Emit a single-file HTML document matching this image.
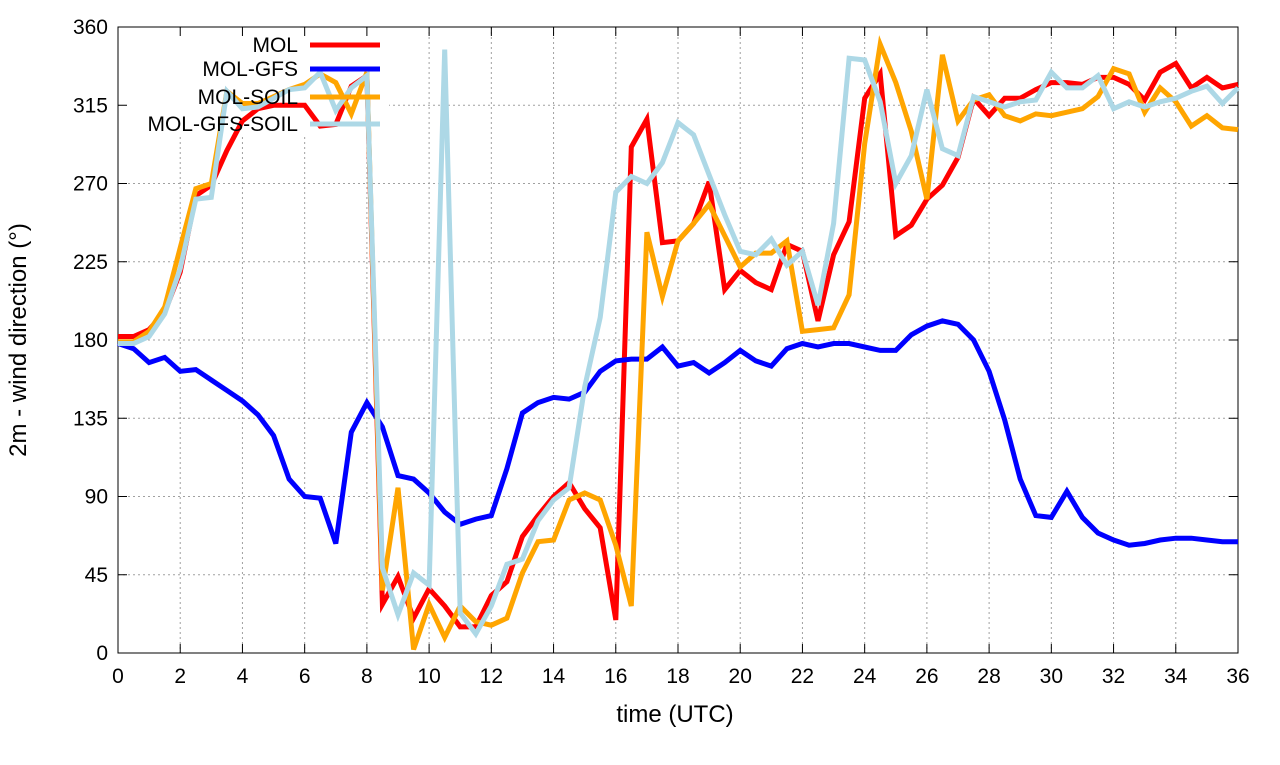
<!DOCTYPE html>
<html><head><meta charset="utf-8"><style>
body{margin:0;background:#fff}
svg text{font-family:"Liberation Sans",sans-serif;fill:#000}
</style></head><body>
<svg id="chart" width="1280" height="760" xmlns="http://www.w3.org/2000/svg">
<g id="grid"></g>
<rect x="119" y="28" width="270" height="108" fill="#fff"/>
<g id="axes"></g>
<g id="series"></g>
<g id="legend"></g>
<text x="675" y="722" font-size="24" text-anchor="middle">time (UTC)</text>
<text transform="translate(26,340) rotate(-90)" font-size="24" text-anchor="middle">2m - wind direction (°)</text>
</svg>
<script>
const xTicks=[0,2,4,6,8,10,12,14,16,18,20,22,24,26,28,30,32,34,36];
const yTicks=[0,45,90,135,180,225,270,315,360];
const seriesNames=["MOL","MOL-GFS","MOL-SOIL","MOL-GFS-SOIL"];
const seriesColors=["#ff0000","#0000ff","#ffa500","#add8e6"];
const timeStep=0.5;
const mol=[182,182,186,196,219,263,269,289,306,313,315,315,315,303,304,326,332,28,44,20,37,27,15,15,33,41,67,79,90,98,83,72,19,291,307,236,237,247,271,209,220,213,209,235,231,191,229,248,319,333,240,246,261,269,285,319,309,319,319,324,328,328,327,331,331,327,318,334,339,325,331,325,327];
const molGfs=[178,175,167,170,162,163,157,151,145,137,125,100,90,89,63,127,144,130,102,100,92,81,74,77,79,106,138,144,147,146,150,162,168,169,169,176,165,167,161,167,174,168,165,175,178,176,178,178,176,174,174,183,188,191,189,180,162,134,100,79,78,93,78,69,65,62,63,65,66,66,65,64,64];
const molSoil=[179,179,185,199,233,267,270,323,316,316,320,324,327,333,328,310,334,36,95,2,28,9,27,18,16,20,46,64,65,88,92,88,62,27,242,205,237,247,258,240,222,230,230,237,185,186,187,206,293,350,328,300,261,344,306,318,321,309,306,310,309,311,313,320,336,333,311,325,317,303,309,302,301];
const molGfsSoil=[178,178,182,195,221,261,262,323,313,314,319,324,325,334,312,325,332,49,22,46,39,347,23,11,27,51,54,76,88,95,153,193,265,274,270,282,305,298,275,252,231,229,238,223,231,200,247,342,341,317,270,286,324,290,286,320,317,314,317,318,334,325,325,332,313,317,314,317,319,323,326,316,325];
const allSeries=[mol,molGfs,molSoil,molGfsSoil];

const L=118,R=1238,T=27,B=653;
const xs=t=>L+(t-0)/36*(R-L);
const ys=v=>B-v/360*(B-T);
const NS="http://www.w3.org/2000/svg";
function mk(tag,attrs,parent){const e=document.createElementNS(NS,tag);for(const k in attrs)e.setAttribute(k,attrs[k]);parent.appendChild(e);return e;}
const grid=document.getElementById('grid'),axes=document.getElementById('axes'),ser=document.getElementById('series'),leg=document.getElementById('legend');
xTicks.forEach(t=>{
  const x=xs(t);
  if(t>0&&t<36){const g=mk('line',{x1:x,y1:T,x2:x,y2:B,stroke:'#a0a0a0','stroke-dasharray':'2,3','stroke-width':1},grid);
  
  }
  const tk=mk('path',{d:`M${x},${B}v-9M${x},${T}v9`,stroke:'#000','stroke-width':1},axes);
  
  
  const lb=mk('text',{x:x,y:B+30,'font-size':21,'text-anchor':'middle'},axes);lb.textContent=t;
  
  
});
yTicks.forEach(v=>{
  const y=ys(v);
  if(v>0&&v<360){const g=mk('line',{x1:L,y1:y,x2:R,y2:y,stroke:'#a0a0a0','stroke-dasharray':'2,3','stroke-width':1},grid);
  
  }
  const tk=mk('path',{d:`M${L},${y}h9M${R},${y}h-9`,stroke:'#000','stroke-width':1},axes);
  
  
  const lb=mk('text',{x:L-10,y:y+7,'font-size':21,'text-anchor':'end'},axes);lb.textContent=v;
  
  
});
const fr=mk('rect',{x:L,y:T,width:R-L,height:B-T,fill:'none',stroke:'#000','stroke-width':1},axes);


allSeries.forEach((d,i)=>{
  const pts=d.map((v,j)=>xs(j*timeStep).toFixed(1)+','+ys(v).toFixed(1)).join(' ');
  const p=mk('polyline',{points:pts,fill:'none',stroke:seriesColors[i],'stroke-width':5,'stroke-linejoin':'miter'},ser);
  
  
});
const legY=[45,69,97,124];
seriesNames.forEach((n,i)=>{
  const t=mk('text',{x:298,y:legY[i]+7,'font-size':21,'text-anchor':'end'},leg);t.textContent=n;
  
  
  const l=mk('line',{x1:310,y1:legY[i],x2:380,y2:legY[i],stroke:seriesColors[i],'stroke-width':5},leg);
  
  
});
</script>
</body></html>
